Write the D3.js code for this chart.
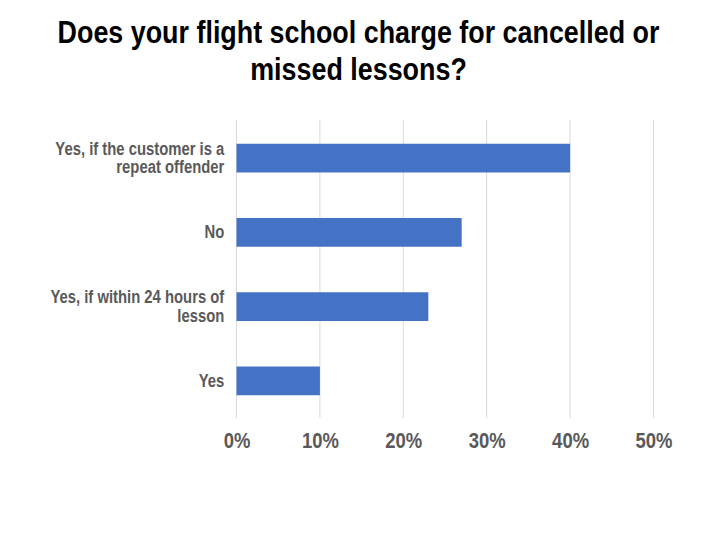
<!DOCTYPE html>
<html><head><meta charset="utf-8">
<script src="https://cdn.jsdelivr.net/npm/d3@7"></script>
<style>
html,body{margin:0;padding:0;background:#fff;}
text{font-family:"Liberation Sans",Arial,sans-serif;font-weight:bold;}
</style></head>
<body>
<svg id="chart" width="720" height="540"></svg>
<script>
const titleLines = ["Does your flight school charge for cancelled or", "missed lessons?"];
const categories = [
  ["Yes, if the customer is a", "repeat offender"],
  ["No"],
  ["Yes, if within 24 hours of", "lesson"],
  ["Yes"]
];
const values = [0.40, 0.27, 0.23, 0.10];
const xTicks = [0, 0.1, 0.2, 0.3, 0.4, 0.5];

(function(){
const svg = d3.select("#chart");
svg.append("rect").attr("width",720).attr("height",540).attr("fill","#fff");

const pL = 236.5, pR = 653.5, pT = 121, pB = 418;
const x = d3.scaleLinear().domain([0, 0.5]).range([pL, pR]);
const y = d3.scaleBand().domain(d3.range(categories.length)).range([pT, pB]).paddingInner(0.613).paddingOuter(0.3065);

// condensed text helper: horizontal squeeze to mimic a condensed face
function measure(str, size){
  const p = svg.append("text").attr("font-size",size).text(str);
  const w = p.node().getComputedTextLength(); p.remove(); return w;
}
function ctext(parent, px, py, str, size, fill, anchor, sq){
  const g = parent.append("g").attr("transform",`translate(${px},${py}) scale(${sq},1)`);
  g.append("text").attr("x",0).attr("y",0).attr("text-anchor",anchor).attr("font-size",size).attr("fill",fill).text(str);
  return g;
}
const SQ = 602 / measure(titleLines[0], 32);
const SQL = 169 / measure(categories[0][0], 17.5);

// title
titleLines.forEach((t,i)=>ctext(svg, 358.5, 43 + i*37, t, 32, "#000", "middle", SQ));

// gridlines
svg.append("g").selectAll("line").data(xTicks).join("line")
  .attr("x1",d=>x(d)).attr("x2",d=>x(d)).attr("y1",pT-1).attr("y2",pB)
  .attr("stroke","#d9d9d9").attr("stroke-width",1);

// bars
svg.append("g").selectAll("rect").data(values).join("rect")
  .attr("x",x(0)).attr("y",(d,i)=>y(i)).attr("width",d=>x(d)-x(0)).attr("height",y.bandwidth())
  .attr("fill","#4472c4");

// x axis labels
const xAxis = d3.axisBottom(x).tickValues(xTicks).tickFormat(d3.format(".0%")).tickSize(0).tickPadding(0);
const gx = svg.append("g").attr("transform",`translate(0,${pB})`).call(xAxis);
gx.select(".domain").remove();
gx.selectAll(".tick text").remove();
gx.selectAll(".tick").each(function(d){
  ctext(d3.select(this), 0, 30, d3.format(".0%")(d), 22, "#595959", "middle", SQ);
});

// category labels
const gl = svg.append("g");
categories.forEach((lines,i)=>{
  const cy = y(i) + y.bandwidth()/2;
  const n = lines.length;
  lines.forEach((ln,j)=>{
    const yy = n===1 ? cy + 5.8 : cy - 3.3 + j*18.3;
    ctext(gl, 224.3, yy, ln, 17.5, "#595959", "end", SQL);
  });
});
})();
</script>
</body></html>
